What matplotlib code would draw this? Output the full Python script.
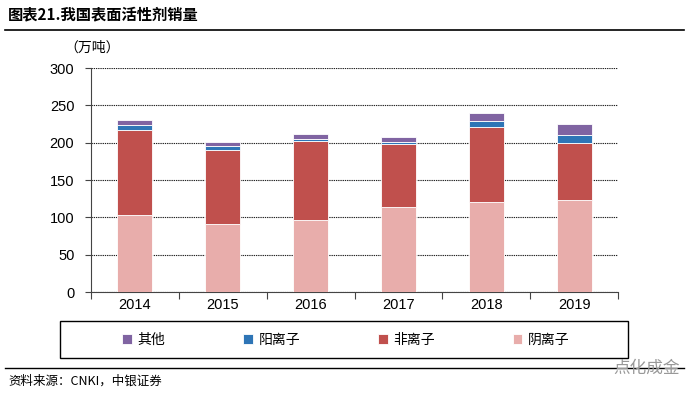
import matplotlib
matplotlib.use("Agg")
import matplotlib.pyplot as plt
from matplotlib.patches import Rectangle
from matplotlib.lines import Line2D
import numpy as np

plt.rcParams['font.family'] = ['Liberation Sans', 'Noto Sans CJK SC', 'DejaVu Sans']

years = ['2014', '2015', '2016', '2017', '2018', '2019']
anionic = [103, 91, 96, 114, 120, 123]      # 阴离子
nonionic = [114, 99, 106, 84, 101, 77]      # 非离子
cationic = [6, 5, 3, 3, 8, 10]              # 阳离子
others = [7, 6, 7, 6, 11, 15]               # 其他

series = [
    ('阴离子', anionic, '#E8ADAB'),
    ('非离子', nonionic, '#C0504D'),
    ('阳离子', cationic, '#2E75B6'),
    ('其他', others, '#8064A2'),
]

fig = plt.figure(figsize=(7, 3.95), dpi=100)
ax = fig.add_axes([91/700, 1-292/395, (618-91)/700, (292-68)/395])

x = np.arange(len(years))
bottom = np.zeros(len(years))
handles = {}
for name, vals, col in series:
    b = ax.bar(x, vals, 0.4, bottom=bottom, color=col, edgecolor='white',
               linewidth=0.6, zorder=3, label=name)
    handles[name] = b
    bottom += np.array(vals)

ax.set_xlim(-0.5, len(years)-0.5)
ax.set_ylim(0, 300)
ax.set_yticks(range(0, 301, 50))
ax.yaxis.grid(True, linestyle=(0, (1.2, 0.8)), color='#222222', linewidth=0.8, zorder=0)
ax.set_axisbelow(True)
for s in ['top', 'right']:
    ax.spines[s].set_visible(False)
ax.spines['left'].set_color('#444444')
ax.spines['bottom'].set_color('#444444')
ax.tick_params(axis='y', length=4, width=0.8, color='#444444', labelsize=10.5, pad=8)
ax.set_xticks(x)
ax.set_xticklabels(years)
ax.set_xticks(np.arange(-0.5, len(years), 1), minor=True)
ax.tick_params(axis='x', which='major', length=0, labelsize=10.5, pad=4)
ax.tick_params(axis='x', which='minor', length=5, width=0.8, color='#444444')

# Title and lines
fig.text(8/700, 1-14/395, '图表21.我国表面活性剂销量', fontsize=11, fontweight='bold',
         family=['Noto Sans CJK SC'], va='center', ha='left')
fig.add_artist(Line2D([5/700, 684/700], [1-29.5/395, 1-29.5/395], color='black', linewidth=1.2))
fig.text(92/700, 1-48/395, '（万吨）', fontsize=10, family=['Noto Sans CJK SC'],
         va='center', ha='center')

# Legend box
fig.add_artist(Rectangle((60/700, 1-358/395), (628-60)/700, (358-321)/395,
                         transform=fig.transFigure, fill=False, edgecolor='black', linewidth=1.0))
order = ['其他', '阳离子', '非离子', '阴离子']
leg = fig.legend([handles[n] for n in order], order, loc='center',
                 bbox_to_anchor=(346/700, 1-340/395), ncol=4, frameon=False,
                 handlelength=0.7, handleheight=0.7, handletextpad=0.4,
                 columnspacing=5.6, prop={'family': 'Noto Sans CJK SC', 'size': 10})

# bottom line and source
fig.add_artist(Line2D([5/700, 684/700], [1-368/395, 1-368/395], color='black', linewidth=1.0))
fig.text(8/700, 1-381/395, '资料来源：CNKI，中银证券', fontsize=9, style='italic',
         family=['Noto Sans CJK SC'], va='center', ha='left')
fig.text(680/700, 1-368/395, '点化成金', fontsize=12, color='#999999',
         family=['Noto Sans CJK SC'], va='center', ha='right')

fig.savefig('out.png', dpi=100)
